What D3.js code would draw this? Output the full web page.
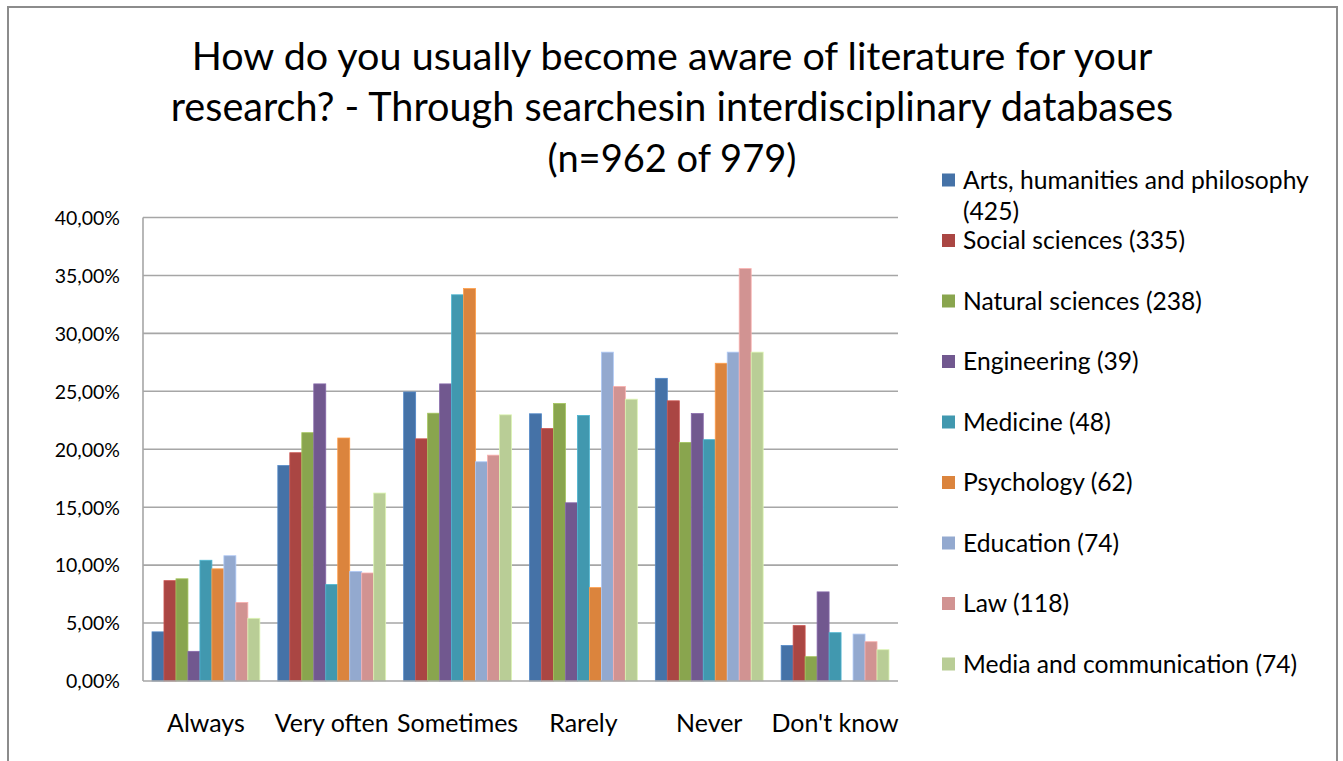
<!DOCTYPE html>
<html>
<head>
<meta charset="utf-8">
<script src="https://cdn.jsdelivr.net/npm/d3@7"></script>
<style>
  body { margin: 0; background: #fff; }
  text { font-family: Lato, "Open Sans", sans-serif; fill: #000; }
</style>
</head>
<body>
<svg width="1343" height="761"></svg>
<script>
var categories = ["Always", "Very often", "Sometimes", "Rarely", "Never", "Don't know"];

var seriesNames = [
  "Arts, humanities and philosophy (425)",
  "Social sciences (335)",
  "Natural sciences (238)",
  "Engineering (39)",
  "Medicine (48)",
  "Psychology (62)",
  "Education (74)",
  "Law (118)",
  "Media and communication (74)"
];

// percent per answer, one array per discipline
var arts        = [4.24, 18.59, 24.94, 23.06, 26.12, 3.06];
var social      = [8.66, 19.70, 20.90, 21.79, 24.18, 4.78];
var natural     = [8.82, 21.43, 23.11, 23.95, 20.59, 2.10];
var engineering = [2.56, 25.64, 25.64, 15.38, 23.08, 7.69];
var medicine    = [10.42, 8.33, 33.33, 22.92, 20.83, 4.17];
var psychology  = [9.68, 20.97, 33.87, 8.06, 27.42, 0];
var education   = [10.81, 9.46, 18.92, 28.38, 28.38, 4.05];
var law         = [6.78, 9.32, 19.49, 25.42, 35.59, 3.39];
var media       = [5.41, 16.22, 22.97, 24.32, 28.38, 2.70];

var yTicks = [0, 5, 10, 15, 20, 25, 30, 35, 40];

var colors = ["#4572A7", "#AA4643", "#89A54E", "#71588F", "#4198AF",
              "#DB843D", "#93A9CF", "#D19392", "#B9CD96"];

var allSeries = [arts, social, natural, engineering, medicine, psychology, education, law, media];

var svg = d3.select("svg");

// shrink/grow a font so a text spans the wanted width
function fitSize(sel, base, target) {
  sel.style("font-size", base + "px");
  var w = sel.node().getComputedTextLength();
  return base * target / w;
}

// outer chart border
svg.append("rect")
  .attr("x", 8).attr("y", 7)
  .attr("width", 1329).attr("height", 770)
  .attr("fill", "none")
  .attr("stroke", "#8c8c8c")
  .attr("stroke-width", 2);

var plot = { left: 143, right: 898, top: 217.5, bottom: 681 };

var x0 = d3.scaleBand()
  .domain(categories)
  .range([plot.left, plot.right]);

var x1 = d3.scaleBand()
  .domain(d3.range(seriesNames.length))
  .range([9, x0.bandwidth() - 9]);

var y = d3.scaleLinear()
  .domain([0, 40])
  .range([plot.bottom, plot.top]);

// gridlines
svg.append("g")
  .selectAll("line")
  .data(yTicks.slice(1))
  .enter().append("line")
    .attr("x1", plot.left)
    .attr("x2", plot.right)
    .attr("y1", function(d) { return y(d); })
    .attr("y2", function(d) { return y(d); })
    .attr("stroke", "#a6a6a6")
    .attr("stroke-width", 1.6);

// y axis labels
var fmt = function(d) { return d3.format(".2f")(d).replace(".", ",") + "%"; };
var yAxis = svg.append("g")
  .attr("transform", "translate(" + (plot.left - 23) + ",0)")
  .call(d3.axisLeft(y).tickValues(yTicks).tickFormat(fmt).tickSize(0).tickPadding(0));
yAxis.select(".domain").remove();
yAxis.selectAll("text")
  .style("font-size", "19.5px")
  .attr("dy", "0.35em");

// bars
var groups = svg.append("g")
  .selectAll("g")
  .data(categories)
  .enter().append("g")
    .attr("transform", function(d) { return "translate(" + x0(d) + ",0)"; });

groups.selectAll("rect")
  .data(function(d, ci) {
    return allSeries.map(function(s, si) { return { si: si, value: s[ci] }; });
  })
  .enter().append("rect")
    .attr("x", function(d) { return x1(d.si); })
    .attr("width", x1.bandwidth())
    .attr("y", function(d) { return y(d.value); })
    .attr("height", function(d) { return y(0) - y(d.value); })
    .attr("fill", function(d) { return colors[d.si]; })
    .attr("stroke", function(d) { return d3.color(colors[d.si]).brighter(0.5); })
    .attr("stroke-width", 0.8);

// axis lines
svg.append("line")
  .attr("x1", plot.left).attr("x2", plot.left)
  .attr("y1", plot.top).attr("y2", plot.bottom)
  .attr("stroke", "#a6a6a6").attr("stroke-width", 1.6);
svg.append("line")
  .attr("x1", plot.left).attr("x2", plot.right)
  .attr("y1", plot.bottom).attr("y2", plot.bottom)
  .attr("stroke", "#a6a6a6").attr("stroke-width", 1.6);

// x axis labels
var xAxis = svg.append("g")
  .attr("transform", "translate(0," + (plot.bottom + 42) + ")")
  .call(d3.axisBottom(x0).tickSize(0).tickPadding(0));
xAxis.select(".domain").remove();
var xLabels = xAxis.selectAll("text").attr("dy", "0.35em");
var xSize = fitSize(xLabels.filter(function(d) { return d === "Very often"; }), 20, 114);
xLabels.style("font-size", xSize + "px");

// title
var titleLines = [
  "How do you usually become aware of literature for your",
  "research? - Through searchesin interdisciplinary databases",
  "(n=962 of 979)"
];
var titleWidths = [961, 1003, 249];
var title = svg.append("g");
titleLines.forEach(function(t, i) {
  var txt = title.append("text")
    .attr("x", 672)
    .attr("y", 70 + i * 51)
    .attr("text-anchor", "middle")
    .text(t);
  txt.style("font-size", fitSize(txt, 36, titleWidths[i]) + "px");
});

// legend
var legend = svg.append("g");
var legendY = d3.scaleLinear().domain([0, 1]).range([180, 240.5]);
var legendText = [];
seriesNames.forEach(function(name, i) {
  var cy = legendY(i);
  legend.append("rect")
    .attr("x", 942).attr("y", cy - 6.5)
    .attr("width", 13).attr("height", 13)
    .attr("fill", colors[i]);
  if (i === 0) {
    legendText.push(legend.append("text")
      .attr("x", 963).attr("y", cy).attr("dy", "0.35em")
      .text("Arts, humanities and philosophy"));
    legendText.push(legend.append("text")
      .attr("x", 963).attr("y", cy + 31).attr("dy", "0.35em")
      .text("(425)"));
  } else {
    legendText.push(legend.append("text")
      .attr("x", 963).attr("y", cy).attr("dy", "0.35em")
      .text(name));
  }
});
var legendSize = fitSize(legendText[0], 20, 346);
legendText.forEach(function(t) { t.style("font-size", legendSize + "px"); });
</script>
</body>
</html>
